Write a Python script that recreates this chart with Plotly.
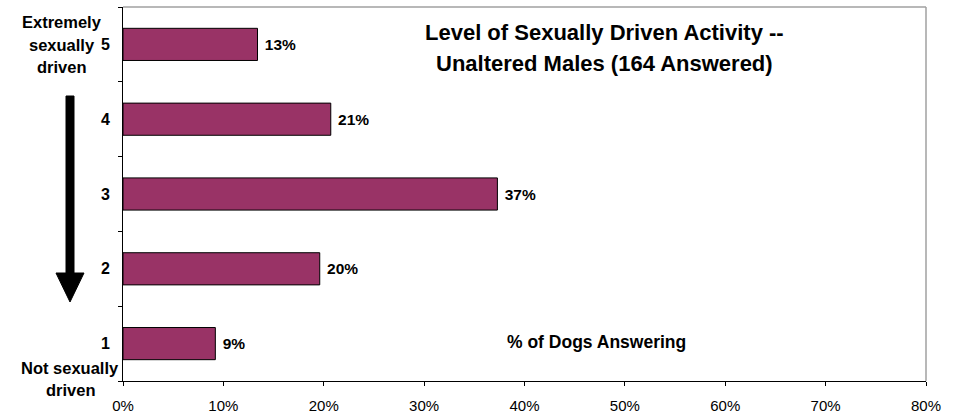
import plotly.graph_objects as go

levels = ["1", "2", "3", "4", "5"]
pct_dogs = [9.2, 19.6, 37.3, 20.7, 13.4]
x_ticks = [0, 10, 20, 30, 40, 50, 60, 70, 80]
x_tick_labels = [f"{v}%" for v in x_ticks]
title_lines = ["Level of Sexually Driven Activity --", "Unaltered Males (164 Answered)"]
axis_note = "% of Dogs Answering"
top_desc = ["Extremely", "sexually", "driven"]
bottom_desc = ["Not sexually", "driven"]

W, H = 956, 417
L, R, T, B = 123, 30, 7, 36
PW, PH = W - L - R, H - T - B

def px(x):
    return (x - L) / PW

def py(y):
    return (H - B - y) / PH

FONT = "Liberation Sans, Arial, sans-serif"

fig = go.Figure(go.Bar(
    y=levels, x=pct_dogs, orientation="h",
    marker=dict(color="#993366", line=dict(color="#000000", width=1)),
    text=[f" {round(v)}%" for v in pct_dogs],
    textposition="outside",
    textfont=dict(family=FONT, size=15.5, color="#000000", weight="bold"),
    cliponaxis=False,
))

fig.update_layout(
    width=W, height=H,
    margin=dict(l=L, r=R, t=T, b=B, autoexpand=False),
    paper_bgcolor="white", plot_bgcolor="white",
    bargap=0.57,
    showlegend=False,
    font=dict(family=FONT, color="#000000"),
    xaxis=dict(
        range=[0, 80], tickvals=x_ticks, ticktext=x_tick_labels,
        showgrid=False, zeroline=False, automargin=False,
        showline=True, linecolor="#000000", linewidth=1,
        ticks="outside", ticklen=4, tickcolor="#000000",
        tickfont=dict(family=FONT, size=15, color="#000000"),
        ticklabelstandoff=7,
    ),
    yaxis=dict(
        type="category", categoryorder="array", categoryarray=levels,
        range=[-0.5, 4.5], automargin=False,
        showgrid=False, zeroline=False,
        showline=True, linecolor="#000000", linewidth=1,
        ticks="outside", ticklen=4, tickcolor="#000000", tickson="boundaries",
        tickfont=dict(family=FONT, size=16, color="#000000", weight="bold"),
        ticklabelstandoff=9,
    ),
)

# gray top and right frame
fig.add_shape(type="line", xref="paper", yref="paper", x0=0, x1=1, y0=1, y1=1,
              line=dict(color="#A0A0A0", width=1.5))
fig.add_shape(type="line", xref="paper", yref="paper", x0=1, x1=1, y0=0, y1=1,
              line=dict(color="#A0A0A0", width=1.5))

# downward arrow
pts = [(66, 96), (74, 96), (74, 273), (84, 273), (70, 302), (56, 273), (66, 273)]
path = "M " + " L ".join(f"{px(a):.5f},{py(b):.5f}" for a, b in pts) + " Z"
fig.add_shape(type="path", xref="paper", yref="paper", path=path,
              fillcolor="#000000", line=dict(color="#000000", width=1))

def ann(text, x, y, size, bold=True, xanchor="center"):
    fig.add_annotation(text=text, xref="paper", yref="paper", x=px(x), y=py(y),
                       xanchor=xanchor, yanchor="middle", showarrow=False,
                       font=dict(family=FONT, size=size, color="#000000",
                                 weight="bold" if bold else "normal"))

ann(title_lines[0], 604, 32, 22)
ann(title_lines[1], 604, 63, 22)
ann(axis_note, 596, 342, 17.5)
ann(top_desc[0], 62, 22, 16.5)
ann(top_desc[1], 97, 45, 16.5, xanchor="right")
ann(top_desc[2], 62, 67, 16.5)
ann(bottom_desc[0], 121, 368, 16.5, xanchor="right")
ann(bottom_desc[1], 71, 390, 16.5)

fig.write_html("out.html", config={"displayModeBar": False},
               post_script="document.body.style.margin='0';")
